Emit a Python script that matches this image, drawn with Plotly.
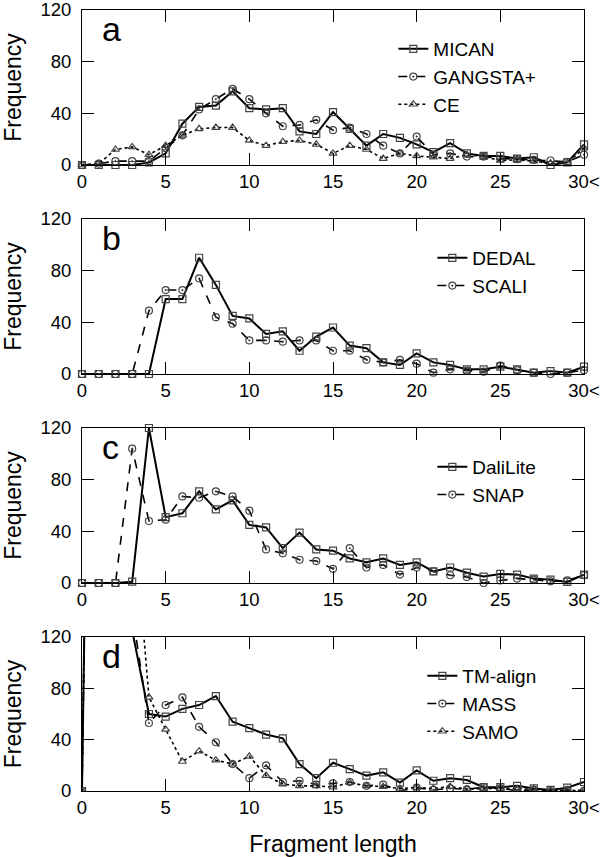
import plotly.graph_objects as go

# fragment length (last bin is "30 or more")
frag_len = list(range(31))
x_tickvals = [0, 5, 10, 15, 20, 25, 30]
x_ticktext = ["0", "5", "10", "15", "20", "25", "30<"]
y_tickvals = [0, 40, 80, 120]

# panel a
mican = [0, 0, 0, 0, 2, 9, 32, 45, 46, 57, 44, 43, 44, 26, 24, 41, 28, 15, 24, 21,
         16, 10, 17, 9, 7, 7, 5, 6, 0, 2, 16]
gangsta = [0, 1, 3, 3, 3, 13, 23, 43, 51, 59, 51, 40, 30, 31, 35, 27, 29, 24, 15, 9,
           22, 8, 9, 6.5, 6.5, 5, 4.5, 4, 3.5, 2.5, 8]
ce = [0, 1, 12, 14, 8, 15, 23, 28, 29, 29, 19, 15, 18, 19, 16, 9, 15, 12, 5, 9,
      7, 6, 5, 8, 6.5, 3.5, 4, 3, 1.3, 1.8, 13]

# panel b
dedal = [0, 0, 0, 0, 0, 58, 58, 90, 69, 45, 43, 31, 33, 18, 29, 36, 22, 20, 9, 7,
         16, 9, 7, 3.6, 3.6, 5.7, 3.6, 1, 2.3, 1, 5.7]
scali = [0, 0, 0, 0, 49, 65, 65, 74, 44, 39, 26, 26, 25, 26, 26, 18, 18, 11, 9, 11,
         8, 1, 3.6, 2.6, 1.8, 6.5, 3, 1, 0, 1, 3]

# panel c
dalilite = [0, 0, 0, 1, 120, 51, 54, 71, 57, 64, 45, 43, 27, 39, 26, 25, 19, 16, 19, 14,
            16, 9, 12, 8, 5, 7, 6.5, 3.4, 2.6, 0.8, 6.5]
snap = [0, 0, 0, 104, 48, 49, 67, 66, 71, 67, 56, 26, 23, 18, 17, 11, 27, 12, 14, 6.5,
        12, 9, 6, 4.7, 0, 2, 3.4, 2.6, 1.3, 2, 6]

# panel d (first bins run far off the top of the axis)
tmalign = [0, 900, 400, 125, 60, 58, 64, 67, 74, 54, 49, 44, 41, 21, 10, 22, 17, 12, 14.5, 6.5,
           16, 8, 10, 8.6, 3, 3, 4, 2, 0.8, 2.6, 7]
mass = [0, 900, 400, 140, 53, 67, 73, 50, 38, 21, 10, 20, 7, 8, 5, 6, 7, 4, 5, 0,
        2.6, 0.8, 2, 1.3, 3, 2, 0.3, 0.8, 0, 0.8, 0.3]
samo = [0, 900, 500, 230, 73, 48, 23, 31, 24, 21, 27, 12, 5.4, 4, 4, 3, 6.5, 4, 3.4, 2,
        2.6, 2, 3.4, 1.6, 2, 2, 1.6, 1.6, 0, 0.8, 0]

SOLID = ("solid", "square-open")
DASH = ("dash", "circle-open-dot")
DOT = ("dot", "triangle-up-open")

panels = [
    ("a", [("MICAN", mican, SOLID), ("GANGSTA+", gangsta, DASH), ("CE", ce, DOT)]),
    ("b", [("DEDAL", dedal, SOLID), ("SCALI", scali, DASH)]),
    ("c", [("DaliLite", dalilite, SOLID), ("SNAP", snap, DASH)]),
    ("d", [("TM-align", tmalign, SOLID), ("MASS", mass, DASH), ("SAMO", samo, DOT)]),
]

FONT = "Liberation Sans, Arial, sans-serif"
W, H = 600, 857
top_px, bottom_px = 10, 791
span = bottom_px - top_px
panel_px = [(10, 165), (219, 374), (428, 583), (637, 791)]

fig = go.Figure()
layout = {}

for i, (letter, series) in enumerate(panels):
    n = i + 1
    sfx = "" if n == 1 else str(n)
    leg = "legend" if n == 1 else "legend" + str(n)
    t, b = panel_px[i]
    dom = [(bottom_px - b) / span, (bottom_px - t) / span]

    for name, vals, (dash, sym) in series:
        fig.add_trace(go.Scatter(
            x=frag_len, y=vals, name=name,
            mode="lines+markers",
            line=dict(color="black", width=2 if dash == "solid" else 1.6, dash=dash),
            marker=dict(symbol=sym, size=7, color="#444",
                        line=dict(color="#444", width=1.2)),
            cliponaxis=(letter == "d"),
            xaxis="x" + sfx, yaxis="y" + sfx, legend=leg,
        ))

    layout["xaxis" + sfx] = dict(
        domain=[0, 1], anchor="y" + sfx, range=[0, 30],
        tickvals=x_tickvals, ticktext=x_ticktext,
        ticks="inside", ticklen=12, tickcolor="black",
        showline=True, linecolor="black", linewidth=1, mirror="ticks",
        showgrid=False, zeroline=False, ticklabeloverflow="allow",
        tickfont=dict(size=18.5, color="black", family=FONT),
    )
    layout["yaxis" + sfx] = dict(
        domain=dom, anchor="x" + sfx, range=[0, 120],
        tickvals=y_tickvals,
        ticks="inside", ticklen=12, tickcolor="black",
        showline=True, linecolor="black", linewidth=1, mirror="ticks",
        showgrid=False, zeroline=False, ticklabelstandoff=6,
        ticklabeloverflow="allow",
        tickfont=dict(size=18.5, color="black", family=FONT),
        title=dict(text="Frequency", standoff=22,
                   font=dict(size=23, color="black", family=FONT)),
    )
    layout[leg] = dict(
        x=0.915, y=(bottom_px - t - 20) / span, xanchor="right", yanchor="top",
        bgcolor="rgba(0,0,0,0)", tracegroupgap=0,
        font=dict(size=19, color="black", family=FONT),
    )
    fig.add_annotation(
        text=letter, xref="x" + sfx + " domain", yref="y" + sfx + " domain",
        x=0.035, y=1.01, xanchor="left", yanchor="top", showarrow=False,
        font=dict(size=34, color="black", family=FONT),
    )

layout["xaxis4"]["title"] = dict(text="Fragment length", standoff=24,
                                 font=dict(size=23, color="black", family=FONT))

fig.update_layout(**layout)
fig.update_layout(
    width=W, height=H,
    margin=dict(l=82, r=16, t=top_px, b=H - bottom_px, autoexpand=False),
    plot_bgcolor="white", paper_bgcolor="white",
    showlegend=True,
)

# drop the default page margin so the whole 600x857 figure fits the window
fig.write_html("out.html", config={"displayModeBar": False},
               post_script="document.body.style.margin='0';")
